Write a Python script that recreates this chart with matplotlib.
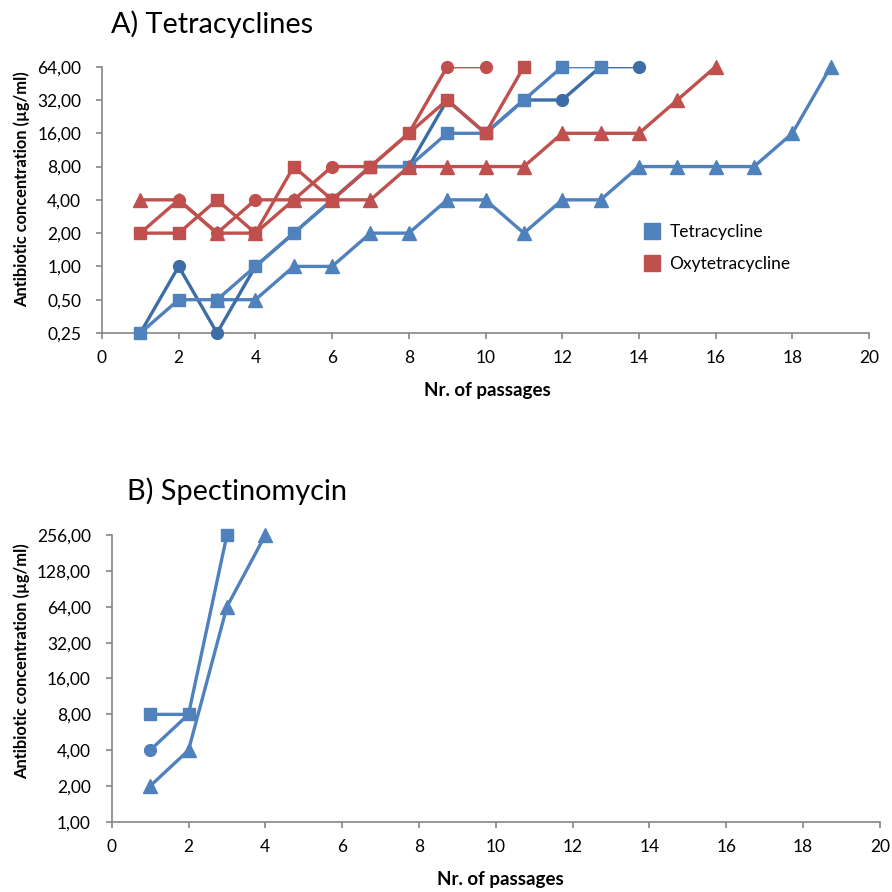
import matplotlib
matplotlib.use("Agg")
import matplotlib.pyplot as plt
from matplotlib.ticker import FixedLocator, FuncFormatter, NullLocator
from matplotlib.lines import Line2D

plt.rcParams['font.family'] = ['Lato', 'DejaVu Sans']

BLUE = '#4F81BD'
DARK_BLUE = '#3D6DA7'
RED = '#C0504D'
GREY = '#868686'

# A) tetracycline lineages (passage, MIC in ug/ml)
tet_sq_x = list(range(1, 14))
tet_sq_y = [0.25, 0.5, 0.5, 1, 2, 4, 8, 8, 16, 16, 32, 64, 64]
tet_ci_x = list(range(1, 15))
tet_ci_y = [0.25, 1, 0.25, 1, 2, 4, 8, 8, 32, 16, 32, 32, 64, 64]
tet_tr_x = list(range(3, 20))
tet_tr_y = [0.5, 0.5, 1, 1, 2, 2, 4, 4, 2, 4, 4, 8, 8, 8, 8, 16, 64]

# A) oxytetracycline lineages
oxy_sq_x = list(range(1, 12))
oxy_sq_y = [2, 2, 4, 2, 8, 4, 8, 16, 32, 16, 64]
oxy_ci_x = list(range(1, 11))
oxy_ci_y = [2, 4, 2, 4, 4, 8, 8, 16, 64, 64]
oxy_tr_x = list(range(1, 17))
oxy_tr_y = [4, 4, 2, 2, 4, 4, 4, 8, 8, 8, 8, 16, 16, 16, 32, 64]

# B) spectinomycin lineages
spe_sq_x = [1, 2, 3]
spe_sq_y = [8, 8, 256]
spe_ci_x = [1, 2]
spe_ci_y = [4, 8]
spe_tr_x = [1, 2, 3, 4]
spe_tr_y = [2, 4, 64, 256]

ticks_a = [0.25, 0.5, 1, 2, 4, 8, 16, 32, 64]
ticks_b = [1, 2, 4, 8, 16, 32, 64, 128, 256]
x_ticks = list(range(0, 21, 2))

MARKER_SIZE = {'s': 8.5, 'o': 8.5, '^': 9.5}


def series(ax, x, y, color, marker, z):
    # line is clipped to the plot area, markers are not
    ax.plot(x, y, color=color, lw=2.4, zorder=z, solid_joinstyle='round')
    ax.plot(x, y, ls='none', marker=marker, ms=MARKER_SIZE[marker],
            color=color, mec=color, clip_on=False, zorder=z + 0.5)


def style_axes(ax, yticks):
    ax.set_yscale('log', base=2)
    ax.set_ylim(yticks[0], yticks[-1])
    ax.set_xlim(0, 20)
    ax.yaxis.set_major_locator(FixedLocator(yticks))
    ax.yaxis.set_minor_locator(NullLocator())
    ax.yaxis.set_major_formatter(FuncFormatter(lambda v, p: f"{v:.2f}".replace('.', ',')))
    ax.set_xticks(x_ticks)
    for side in ('top', 'right'):
        ax.spines[side].set_visible(False)
    for side in ('left', 'bottom'):
        ax.spines[side].set_color(GREY)
        ax.spines[side].set_linewidth(1.2)
    ax.tick_params(direction='out', length=4, width=1.2, color=GREY,
                   labelsize=12.5, labelcolor='#000000')
    ax.tick_params(axis='y', pad=11)
    ax.tick_params(axis='x', pad=8)


fig = plt.figure(figsize=(8.92, 8.92), dpi=100)

ax1 = fig.add_axes([0.1143, 0.6267, 0.8600, 0.2985])
style_axes(ax1, ticks_a)
series(ax1, tet_tr_x, tet_tr_y, BLUE, '^', 3)
series(ax1, tet_ci_x, tet_ci_y, DARK_BLUE, 'o', 4)
series(ax1, tet_sq_x, tet_sq_y, BLUE, 's', 5)
series(ax1, oxy_tr_x, oxy_tr_y, RED, '^', 6)
series(ax1, oxy_ci_x, oxy_ci_y, RED, 'o', 7)
series(ax1, oxy_sq_x, oxy_sq_y, RED, 's', 8)

handles = [Line2D([], [], ls='none', marker='s', ms=11, color=BLUE),
           Line2D([], [], ls='none', marker='s', ms=11, color=RED)]
fig.legend(handles, ['Tetracycline', 'Oxytetracycline'], loc='upper left',
           bbox_to_anchor=(0.7231, 0.7489), bbox_transform=fig.transFigure,
           frameon=False, fontsize=12.5, borderpad=0, borderaxespad=0,
           handlelength=0.8, handletextpad=0.6, labelspacing=0.9)

fig.text(0.1244, 1 - 33 / 892, 'A) Tetracyclines', fontsize=20.8, va='baseline', ha='left')
fig.text(487 / 892, 1 - 390 / 892, 'Nr. of passages', fontsize=13.5,
         fontweight='bold', ha='center', va='center')
fig.text(22 / 892, 1 - 189 / 892, 'Antibiotic concentration (µg/ml)', fontsize=11.9,
         fontweight='bold', rotation=90, ha='center', va='center')

ax2 = fig.add_axes([0.1252, 0.0785, 0.8613, 0.3217])
style_axes(ax2, ticks_b)
series(ax2, spe_tr_x, spe_tr_y, BLUE, '^', 3)
series(ax2, spe_ci_x, spe_ci_y, BLUE, 'o', 4)
series(ax2, spe_sq_x, spe_sq_y, BLUE, 's', 5)

fig.text(127 / 892, 1 - 500 / 892, 'B) Spectinomycin', fontsize=20.8, va='baseline', ha='left')
fig.text(500 / 892, 1 - 880 / 892, 'Nr. of passages', fontsize=13.5,
         fontweight='bold', ha='center', va='center')
fig.text(22 / 892, 1 - 661 / 892, 'Antibiotic concentration (µg/ml)', fontsize=11.9,
         fontweight='bold', rotation=90, ha='center', va='center')

fig.savefig('out.png', dpi=100, facecolor='white')
